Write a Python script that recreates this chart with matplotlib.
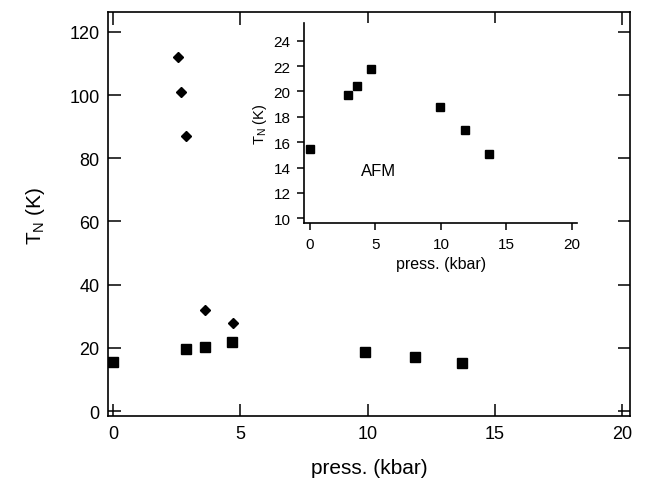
import matplotlib
matplotlib.use('Agg')
from matplotlib import pyplot as plt

plt.rcParams['font.family'] = ['Liberation Sans', 'DejaVu Sans']

# squares: AFM transition, diamonds: upper transitions
press_sq = [0, 2.87, 3.6, 4.68, 9.9, 11.85, 13.7]
tn_sq = [15.5, 19.7, 20.4, 21.8, 18.8, 17.0, 15.1]
press_di = [2.55, 2.65, 2.88, 3.6, 4.7]
tn_di = [112, 101, 87, 32, 28]

main_xticks = [0, 5, 10, 15, 20]
main_yticks = [0, 20, 40, 60, 80, 100, 120]
inset_yticks = [10, 12, 14, 16, 18, 20, 22, 24]

fig = plt.figure(figsize=(6.47, 4.85), dpi=100)

# main panel
ax = fig.add_axes([0.1669, 0.1392, 0.8068, 0.8334])
ax.plot(press_sq, tn_sq, 's', color='black', markersize=6.5)
ax.plot(press_di, tn_di, 'D', color='black', markersize=4.8)
ax.set_xlim(-0.2, 20.3)
ax.set_ylim(-1.7, 126.2)
ax.set_xticks(main_xticks)
ax.set_yticks(main_yticks)
ax.tick_params(direction='in', length=9, width=1.1, top=True, right=True,
               labelsize=13, pad=6)
for s in ax.spines.values():
    s.set_linewidth(1.2)
ax.set_xlabel('press. (kbar)', fontsize=15, labelpad=12)
ax.set_ylabel(r'T$_\mathregular{N}$ (K)', fontsize=15, labelpad=16)

# inset
ins = fig.add_axes([0.4703, 0.5381, 0.4215, 0.4124])
ins.plot(press_sq, tn_sq, 's', color='black', markersize=6)
ins.set_xlim(-0.44, 20.4)
ins.set_ylim(9.63, 25.4)
ins.set_xticks(main_xticks)
ins.set_yticks(inset_yticks)
ins.spines['top'].set_visible(False)
ins.spines['right'].set_visible(False)
for s in ['left', 'bottom']:
    ins.spines[s].set_linewidth(1.2)
ins.tick_params(direction='out', length=5, width=1.1, labelsize=11, pad=5)
ins.set_xlabel('press. (kbar)', fontsize=11.5)
ins.set_ylabel(r'T$_\mathregular{N}$ (K)', fontsize=10.5, labelpad=3)
ins.text(5.2, 13.8, 'AFM', fontsize=12, ha='center', va='center')

fig.savefig('out.png', dpi=100)
